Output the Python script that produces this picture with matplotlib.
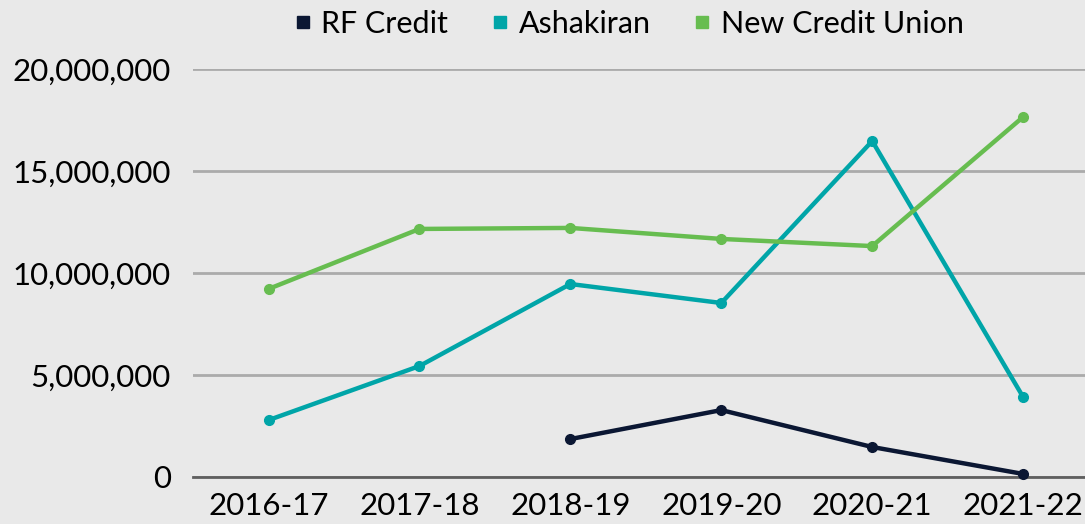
import matplotlib.pyplot as plt
import numpy as np
from matplotlib.lines import Line2D
from matplotlib.ticker import FuncFormatter

plt.rcParams['font.family'] = ['Lato', 'DejaVu Sans']

# Data
years = ['2016-17', '2017-18', '2018-19', '2019-20', '2020-21', '2021-22']
rf_credit = [np.nan, np.nan, 1.86e6, 3.28e6, 1.47e6, 0.15e6]
ashakiran = [2.79e6, 5.44e6, 9.46e6, 8.53e6, 16.47e6, 3.92e6]
new_cu = [9.22e6, 12.16e6, 12.21e6, 11.67e6, 11.32e6, 17.65e6]

names = ['RF Credit', 'Ashakiran', 'New Credit Union']
colors = ['#0b1733', '#00a5a8', '#67bd50']
bg = '#e9e9e9'

fig = plt.figure(figsize=(10.85, 5.24), dpi=100, facecolor=bg)
ax = fig.add_axes([0.178, 0.0897, 0.822, 0.7786], facecolor=bg)

x = np.arange(len(years))
for vals, c in zip([rf_credit, ashakiran, new_cu], colors):
    ax.plot(x, vals, color=c, lw=3.2, marker='o', markersize=7, solid_capstyle='round', clip_on=False, zorder=3)

ax.set_xlim(-0.5, 5.41)
ax.set_ylim(0, 20e6)
ax.set_yticks(np.arange(0, 20e6 + 1, 5e6))
ax.yaxis.set_major_formatter(FuncFormatter(lambda v, p: f'{int(v):,}'))
ax.set_xticks(x)
ax.set_xticklabels(years)
ax.grid(axis='y', color='#ababab', lw=2)
ax.set_axisbelow(True)
for s in ['top', 'right', 'left']:
    ax.spines[s].set_visible(False)
ax.spines['bottom'].set_color('#5f5f5f')
ax.spines['bottom'].set_linewidth(2)
ax.tick_params(length=0, labelsize=22.5, colors='black')
ax.tick_params(axis='y', pad=16)
ax.tick_params(axis='x', pad=11)

handles = [Line2D([], [], ls='none', marker='s', color=c, markersize=8) for c in colors]
fig.legend(handles, names, loc='center', bbox_to_anchor=(0.578, 0.955), ncol=3, frameon=False,
           fontsize=22, handletextpad=0.2, columnspacing=1.3, handlelength=0.8)

plt.savefig('out.png', dpi=100, facecolor=bg)
